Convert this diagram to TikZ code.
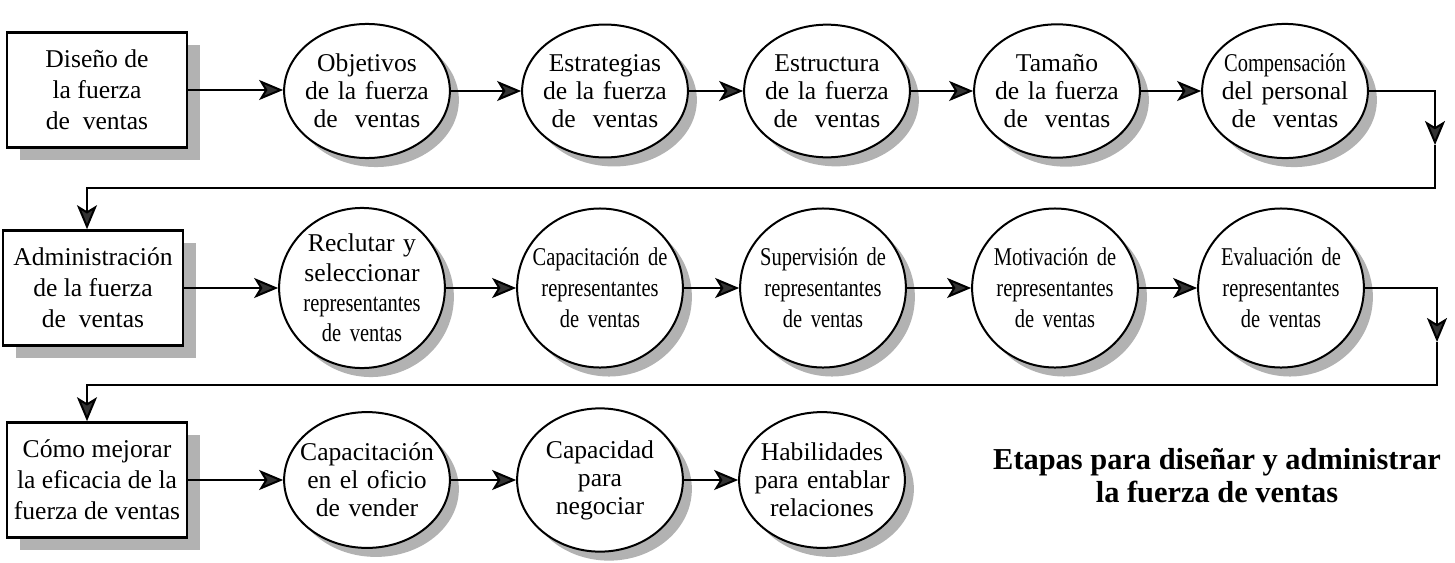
\documentclass[tikz,border=0pt]{standalone}
\usepackage{fontspec}
\setmainfont{Liberation Serif}
\newfontfamily\narrowfont[FakeStretch=0.8]{Liberation Serif}
\usepackage{tikz}
\usetikzlibrary{arrows.meta, positioning, shapes.geometric, shadows}
\newcommand{\nw}[1]{{\narrowfont\fontdimen2\font=1.3pt #1}}

\begin{document}
\begin{tikzpicture}[x=0.5pt, y=-0.5pt,
    stage/.style={rectangle, draw, line width=1.3pt, fill=white, minimum width=90pt, minimum height=57.5pt,
                  inner sep=0pt, align=center, font=\fontsize{12.8}{15.5}\selectfont,
                  drop shadow={shadow xshift=6.5pt, shadow yshift=-6pt, fill=black!30, opacity=1}},
    stepA/.style={ellipse, draw, line width=1pt, fill=white, text width=68pt, inner xsep=-4.7pt, inner ysep=5.2pt,
                  align=center, font=\fontsize{12.8}{14}\selectfont,
                  drop shadow={shadow xshift=4.5pt, shadow yshift=-4.5pt, fill=black!30, opacity=1}},
    stepB/.style={stepA, inner ysep=8.1pt, font=\fontsize{12.8}{15.5}\selectfont},
    flow/.style={draw=black, line width=1pt, -{Stealth[length=12pt, width=10pt, inset=3pt, fill=black!80]}}
]
\useasboundingbox (0,0) rectangle (1455,562);
% diseño
\node[stage] (dis) at (97,90) {Diseño de\\la fuerza\\de \ ventas};
\node[stepA] (obj) at (367,91) {Objetivos\\de la fuerza\\de \ ventas};
\node[stepA] (estra) at (605,91) {Estrategias\\de la fuerza\\de \ ventas};
\node[stepA] (estru) at (827,91) {Estructura\\de la fuerza\\de \ ventas};
\node[stepA] (tam) at (1057,91) {Tamaño\\de la fuerza\\de \ ventas};
\node[stepA] (comp) at (1285,91) {\nw{Compensación}\\del personal\\de \ ventas};
% administración
\node[stage] (adm) at (93,288) {Administración\\de la fuerza\\de \ ventas};
\node[stepB, inner ysep=1.3pt, font=\fontsize{12.8}{15}\selectfont] (rec) at (362,288) {Reclutar y\\seleccionar\\\nw{representantes}\\\nw{de ventas}};
\node[stepB] (cap) at (600,288) {\nw{Capacitación de}\\\nw{representantes}\\\nw{de ventas}};
\node[stepB] (sup) at (823,288) {\nw{Supervisión de}\\\nw{representantes}\\\nw{de ventas}};
\node[stepB] (mot) at (1055,288) {\nw{Motivación de}\\\nw{representantes}\\\nw{de ventas}};
\node[stepB] (eva) at (1281,288) {\nw{Evaluación de}\\\nw{representantes}\\\nw{de ventas}};
% eficacia
\node[stage] (mej) at (97,480) {Cómo mejorar\\la eficacia de la\\fuerza de ventas};
\node[stepA, inner ysep=5.5pt] (ofi) at (367,480) {Capacitación\\en el oficio\\de vender};
\node[stepA, inner ysep=5.5pt] (neg) at (600,480) {Capacidad\\para\\negociar};
\node[stepA, inner ysep=5.5pt] (hab) at (822,480) {Habilidades\\para entablar\\relaciones};
\node[font=\bfseries\fontsize{15.2}{16.5}\selectfont, align=center, inner sep=0pt] (tit) at (1217,476)
    {Etapas para diseñar y administrar\\la fuerza de ventas};

\coordinate (r1) at (1435,145);
\coordinate (l1) at (87,188);
\coordinate (r2) at (1437,342);
\coordinate (l2) at (87,385);

\draw[flow] (dis.east) -- (dis.east -| obj.west);
\draw[flow] (obj) -- (estra);
\draw[flow] (estra) -- (estru);
\draw[flow] (estru) -- (tam);
\draw[flow] (tam) -- (comp);
\draw[flow] (comp.east) -| (r1);
\draw[flow] (r1) |- (l1) -- (l1 |- adm.north);
\draw[flow] (adm) -- (rec);
\draw[flow] (rec) -- (cap);
\draw[flow] (cap) -- (sup);
\draw[flow] (sup) -- (mot);
\draw[flow] (mot) -- (eva);
\draw[flow] (eva.east) -| (r2);
\draw[flow] (r2) |- (l2) -- (l2 |- mej.north);
\draw[flow] (mej) -- (ofi);
\draw[flow] (ofi) -- (neg);
\draw[flow] (neg) -- (hab);
\end{tikzpicture}
\end{document}
